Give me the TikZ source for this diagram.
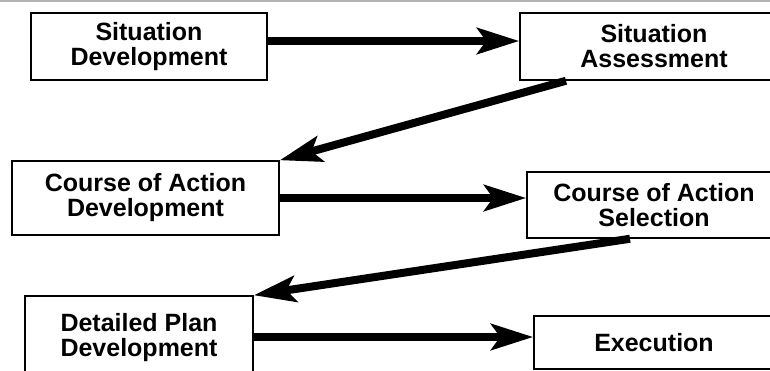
\documentclass[tikz,border=0pt]{standalone}
\usepackage{fontspec}
\setmainfont{Liberation Sans}
\usetikzlibrary{arrows.meta}

\tikzset{
  box/.style={draw, line width=1.5pt, align=center, inner sep=0pt,
              font=\fontsize{25}{25}\selectfont\bfseries}
}

\begin{document}
\begin{tikzpicture}[x=1pt, y=-1pt, ->, >={Stealth[length=42pt,width=26pt,inset=9pt]},
                    line width=8pt]

                      \useasboundingbox (0,0) rectangle (770,370);
                      \draw[-, gray!60, line width=2.5pt] (0,1) -- (770,1);

                      \node[box, minimum width=236pt, minimum height=67pt] (sd)   at (149,46.5)  {Situation\\Development};
                      \node[box, minimum width=268pt, minimum height=67pt] (sa)   at (654,46.5)  {Situation\\Assessment};
                      \node[box, minimum width=267pt, minimum height=74pt] (coad) at (145.5,198) {Course of Action\\Development};
                      \node[box, minimum width=254pt, minimum height=66pt] (coas) at (654,205)   {Course of Action\\Selection};
                      \node[box, minimum width=228pt, minimum height=84pt] (dpd)  at (139,338)   {Detailed Plan\\Development};
                      \node[box, minimum width=240pt, minimum height=53pt] (exe)  at (654,342.5) {Execution};

                      \path ([yshift=5.5pt]sd.east) edge ([yshift=5.5pt]sa.west)
                            ([xshift=-88pt]sa.south) edge (coad.north east)
                            (coad.east) edge (coad.east -| coas.west)
                            ([xshift=-24pt]coas.south) edge (dpd.north east)
                            ([yshift=1pt]dpd.east) edge ([yshift=1pt]dpd.east -| exe.west);
                \end{tikzpicture}
\end{document}
